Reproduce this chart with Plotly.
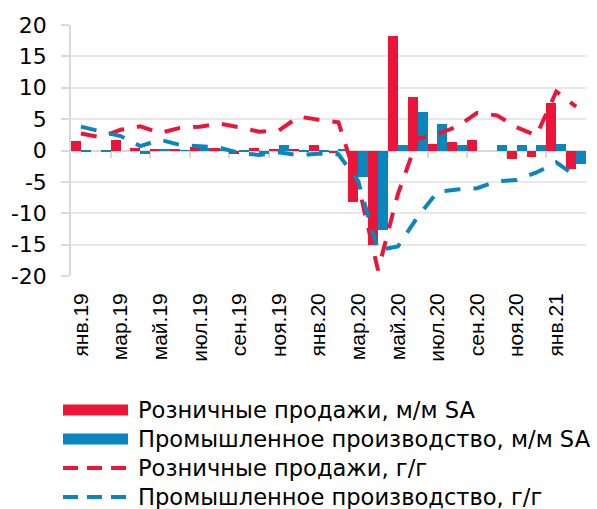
import plotly.graph_objects as go

# ---------------- data ----------------
months = ["янв.19", "фев.19", "мар.19", "апр.19", "май.19", "июн.19", "июл.19", "авг.19",
          "сен.19", "окт.19", "ноя.19", "дек.19", "янв.20", "фев.20", "мар.20", "апр.20",
          "май.20", "июн.20", "июл.20", "авг.20", "сен.20", "окт.20", "ноя.20", "дек.20",
          "янв.21", "фев.21"]

retail_mm = [1.5, 0.0, 1.6, 0.45, 0.3, 0.3, 0.6, 0.4, -0.6, 0.45, 0.3, 0.1, 0.85,
             -0.4, -8.2, -15.0, 18.3, 8.5, 1.1, 1.3, 1.7, 0.0, -1.4, -1.0, 7.5, -3.0]

industry_mm = [-0.2, -0.3, 0.0, -0.5, 0.1, 0.05, 0.4, 0.2, -0.3, -0.5, 0.9, -0.2, -0.3,
               0.1, -4.3, -12.7, 0.85, 6.2, 4.2, 0.95, 0.0, 0.9, 0.85, 0.9, 1.1, -2.1]

retail_yy = [2.7, 2.1, 3.3, 3.85, 2.8, 3.6, 3.8, 4.3, 3.7, 3.0, 3.2, 5.4, 4.9,
             4.5, -5.4, -19.1, -7.0, 1.9, 2.6, 3.8, 6.0, 5.6, 3.7, 2.4, 9.4, 7.0]

industry_yy = [3.8, 3.0, 2.3, 0.7, 1.7, 0.9, 0.6, 0.45, -0.4, -0.7, -0.3, -0.75, -0.5,
               -0.6, -4.9, -15.9, -15.3, -10.6, -6.6, -6.2, -6.0, -4.9, -4.7, -3.5, -1.9, -4.1]

series_names = ["Розничные продажи, м/м SA", "Промышленное производство, м/м SA",
                "Розничные продажи, г/г", "Промышленное производство, г/г"]

y_ticks = [-20, -15, -10, -5, 0, 5, 10, 15, 20]
y_tick_text = [str(v) for v in y_ticks]

# ---------------- style ----------------
RED = "#ED143A"
BLUE = "#0986BD"
GRID = "#E8E8E8"
AXIS = "#D9D9D9"
FONT_H = "DejaVu Sans"
FONT_X = "Liberation Sans, Arial"

W, H = 597, 509
ML, MR, MT, MB = 71, 11, 25, 233
PW, PH = W - ML - MR, H - MT - MB

def px_x(px):
    return (px - ML) / PW

def px_y(py):
    return (H - MB - py) / PH

idx = list(range(len(months)))

fig = go.Figure()
fig.add_trace(go.Bar(x=idx, y=retail_mm, name=series_names[0], marker_color=RED,
                     marker_line_width=0, showlegend=False))
fig.add_trace(go.Bar(x=idx, y=industry_mm, name=series_names[1], marker_color=BLUE,
                     marker_line_width=0, showlegend=False))
fig.add_trace(go.Scatter(x=idx, y=retail_yy, name=series_names[2], mode="lines",
                         line=dict(color=RED, width=4, dash="16px,13px"), showlegend=False))
fig.add_trace(go.Scatter(x=idx, y=industry_yy, name=series_names[3], mode="lines",
                         line=dict(color=BLUE, width=4, dash="16px,13px"), showlegend=False))
# helper (empty) trace so the zero-line axis with tick marks is drawn
fig.add_trace(go.Scatter(x=[None], y=[None], xaxis="x2", yaxis="y", mode="lines",
                         showlegend=False, hoverinfo="skip"))

n = len(months)
fig.update_layout(
    width=W, height=H,
    margin=dict(l=ML, r=MR, t=MT, b=MB, autoexpand=False),
    paper_bgcolor="white", plot_bgcolor="white",
    barmode="group", bargap=0, bargroupgap=0,
    showlegend=False,
    xaxis=dict(range=[-0.5, n - 0.5], tickmode="array",
               tickvals=idx[::2], ticktext=months[::2],
               tickangle=-90, showgrid=False, showline=False, zeroline=False,
               ticks="", ticklabelstandoff=12, automargin=False,
               tickfont=dict(family=FONT_X, size=21, color="black")),
    xaxis2=dict(overlaying="x", anchor="free", position=0.5, side="bottom",
                range=[-0.5, n - 0.5], tickmode="array",
                tickvals=[i + 0.5 for i in idx[1:-1:2]],
                showticklabels=False, ticks="outside", ticklen=7, tickwidth=1.5,
                tickcolor=AXIS, showline=True, linecolor=AXIS, linewidth=1.5,
                showgrid=False, zeroline=False, layer="below traces"),
    yaxis=dict(range=[-20, 20], tickmode="array", tickvals=y_ticks, ticktext=y_tick_text,
               showgrid=True, gridcolor=GRID, gridwidth=1.5,
               showline=True, linecolor=AXIS, linewidth=1.5,
               ticks="outside", ticklen=8, tickwidth=1.5, tickcolor=AXIS,
               zeroline=False, ticklabelstandoff=10, automargin=False,
               tickfont=dict(family=FONT_H, size=22, color="black")),
)

# ---------------- legend (drawn below the chart) ----------------
row_y = [410, 439, 468, 497]
sym_x0, sym_x1, text_x = 63, 128, 136
shapes = []
annotations = []
for k, name in enumerate(series_names):
    cy = row_y[k]
    color = RED if k % 2 == 0 else BLUE
    if k < 2:
        shapes.append(dict(type="rect", xref="paper", yref="paper",
                           x0=px_x(sym_x0), x1=px_x(sym_x1),
                           y0=px_y(cy + 5.5), y1=px_y(cy - 5.5),
                           fillcolor=color, line=dict(width=0)))
    else:
        shapes.append(dict(type="line", xref="paper", yref="paper",
                           x0=px_x(sym_x0), x1=px_x(sym_x1),
                           y0=px_y(cy), y1=px_y(cy),
                           line=dict(color=color, width=4, dash="15px,9px")))
    annotations.append(dict(xref="paper", yref="paper", x=px_x(text_x), y=px_y(cy),
                            text=name, showarrow=False, xanchor="left", yanchor="middle",
                            font=dict(family=FONT_H, size=22.6, color="black")))
fig.update_layout(shapes=shapes, annotations=annotations)

fig.write_html("out.html", config={"displayModeBar": False},
               post_script="document.body.style.margin='0px';document.body.style.padding='0px';")
